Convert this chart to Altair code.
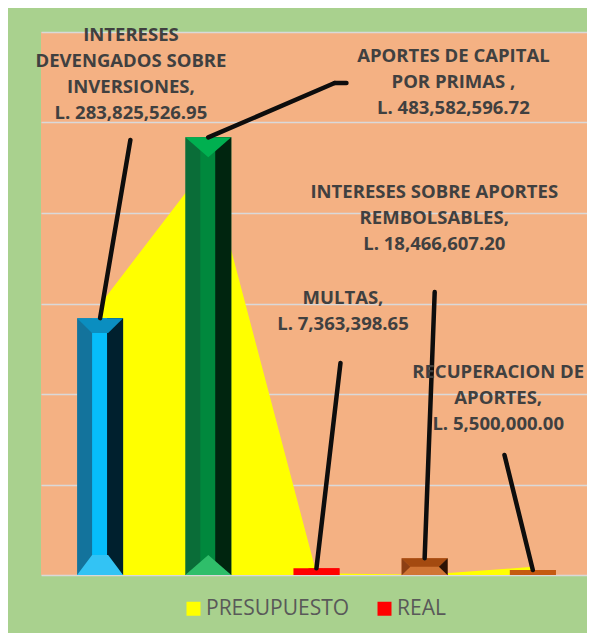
import altair as alt
import pandas as pd

# ---------------- data ----------------
categorias = [
    "INTERESES DEVENGADOS SOBRE INVERSIONES",
    "APORTES DE CAPITAL POR PRIMAS",
    "MULTAS",
    "INTERESES SOBRE APORTES REMBOLSABLES",
    "RECUPERACION DE APORTES",
]
real = [283825526.95, 483582596.72, 7363398.65, 18466607.20, 5500000.00]
presupuesto = [299000000, 455000000, 2000000, 300000, 9000000]
etiquetas = [
    ["INTERESES", "DEVENGADOS SOBRE", "INVERSIONES,", "L. 283,825,526.95"],
    ["APORTES DE CAPITAL", "POR PRIMAS ,", "L. 483,582,596.72"],
    ["MULTAS,", "L. 7,363,398.65"],
    ["INTERESES SOBRE APORTES", "REMBOLSABLES,", "L. 18,466,607.20"],
    ["RECUPERACION DE", "APORTES,", "L. 5,500,000.00"],
]
series = ["PRESUPUESTO", "REAL"]
y_ticks = [0, 100e6, 200e6, 300e6, 400e6, 500e6, 600e6]

# ---------------- layout / style (not data) ----------------
CAT_PX = 110.2          # pixel width of one category slot
PLOT_W = 546            # visible plot width (page is 595 px wide)
label_x = [0.285, 3.266, 2.245, 3.089, 3.680]
label_y = [596.7e6, 573.5e6, 306.1e6, 423.2e6, 224.3e6]   # first text line
lead_x = [0.280, 2.168, 2.222, 3.093, 3.738]
lead_y = [480.7e6, 543.6e6, 234.3e6, 312.7e6, 132.6e6]
lead2_x = [2.168, 2.277]

col_base = ["#13739c", "#0a6d38", "#ff0000", "#d07535", "#c55a11"]
col_center = ["#06bdfa", "#00883d", "#ff0000", "#d07535", "#c55a11"]
col_right = ["#00202e", "#00250f", "#ff0000", "#d07535", "#c55a11"]

# caps: (category index, anchor at top or base, svg path, fill)
caps = [
    (0, "top", "M-1,0L1,0L0.35,0.65L-0.35,0.65Z", "#0b8ec0"),
    (0, "base", "M-1,0L1,0L0.35,-0.87L-0.35,-0.87Z", "#33c3f4"),
    (1, "top", "M-1,0L1,0L0,0.87Z", "#00b050"),
    (1, "base", "M-1,0L1,0L0,-0.87Z", "#2fbe6a"),
    (3, "top", "M-1,0L1,0L0.62,0.37L-0.62,0.37Z", "#a44a10"),
    (3, "top", "M-1,0L-0.62,0.37L-1,0.74Z", "#8c3f14"),
    (3, "top", "M1,0L0.62,0.37L1,0.74Z", "#2b1205"),
]

idx = list(range(len(categorias)))
bars = pd.DataFrame({
    "idx": idx, "cat": categorias, "real": real,
    "base": col_base, "center": col_center, "right": col_right,
})
area_df = pd.DataFrame({"idx": idx, "presupuesto": presupuesto, "serie": series[0]})
cap_df = pd.DataFrame({
    "idx": [c[0] for c in caps],
    "yv": [real[c[0]] if c[1] == "top" else 0 for c in caps],
    "forma": [c[2] for c in caps],
    "fill": [c[3] for c in caps],
})
lab_df = pd.DataFrame({
    "lx": label_x, "ly": label_y,
    "txt": ["\n".join(e) for e in etiquetas],
})
lead_df = pd.DataFrame({
    "x1": idx + [lead2_x[0]],
    "y1": real + [lead_y[1]],
    "x2": lead_x + [lead2_x[1]],
    "y2": lead_y + [lead_y[1]],
})

# ---------------- encodings ----------------
xscale = alt.Scale(domain=[-0.5, -0.5 + PLOT_W / CAT_PX], nice=False, zero=False)
yscale = alt.Scale(domain=[0, 600e6], nice=False)
yaxis = alt.Axis(values=y_ticks, grid=True, gridColor="#d9d9d9", gridWidth=1.5,
                 labels=False, ticks=False, domain=False, title=None)


def X(f):
    return alt.X(f, type="quantitative", scale=xscale, axis=None)


def Y(f):
    return alt.Y(f, type="quantitative", scale=yscale, axis=yaxis)


area = alt.Chart(area_df).mark_area(opacity=1, interpolate="linear").encode(
    x=X("idx"), y=Y("presupuesto"),
    color=alt.Color("serie:N", scale=alt.Scale(domain=series, range=["#ffff00", "#ff0000"]),
                    legend=alt.Legend(orient="none", legendX=142, legendY=566,
                                      direction="horizontal", title=None,
                                      symbolType="square", symbolSize=196,
                                      symbolStrokeWidth=0, symbolOpacity=1,
                                      labelFont="Open Sans", labelFontSize=21,
                                      labelColor="#595959", labelOffset=2,
                                      columnPadding=24, padding=0)),
)

bar_base = alt.Chart(bars).mark_bar(size=46).encode(
    x=X("idx"), y=Y("real"), fill=alt.Fill("base:N", scale=None, legend=None))
bar_center = alt.Chart(bars).mark_bar(size=15, xOffset=-0.5).encode(
    x=X("idx"), y=Y("real"), fill=alt.Fill("center:N", scale=None, legend=None))
bar_right = alt.Chart(bars).mark_bar(size=16, xOffset=15).encode(
    x=X("idx"), y=Y("real"), fill=alt.Fill("right:N", scale=None, legend=None))

cap_layer = alt.Chart(cap_df).mark_point(filled=True, opacity=1, strokeWidth=0).encode(
    x=X("idx"), y=Y("yv"),
    shape=alt.Shape("forma:N", scale=None, legend=None),
    fill=alt.Fill("fill:N", scale=None, legend=None),
    size=alt.value(2116),
)

leaders = alt.Chart(lead_df).mark_rule(color="#0d0d0d", strokeWidth=4.5, strokeCap="round").encode(
    x=X("x1"), y=Y("y1"), x2="x2", y2="y2")

labels = alt.Chart(lab_df).mark_text(
    font="Open Sans", fontWeight="bold", fontSize=18.5, color="#404040",
    lineBreak="\n", lineHeight=26, align="center", baseline="middle",
).encode(x=X("lx"), y=Y("ly"), text="txt:N")

chart = alt.layer(area, bar_base, bar_center, bar_right, cap_layer, leaders, labels).properties(
    width=PLOT_W, height=543,
    autosize=alt.AutoSizeParams(type="none"),
    padding={"left": 33, "top": 24, "right": 0, "bottom": 58},
    background="#a9d18e",
).configure_view(fill="#f4b183", strokeWidth=0)

chart.save("out.html", embed_options={"renderer": "svg", "actions": False})
